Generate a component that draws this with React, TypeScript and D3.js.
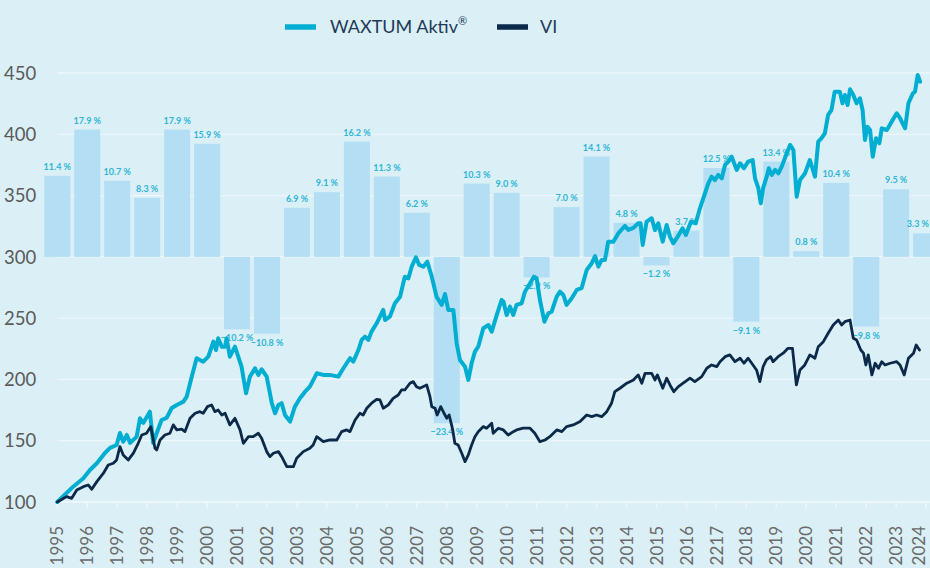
import React from "react";
import * as d3 from "d3";

const years = [1995, 1996, 1997, 1998, 1999, 2000, 2001, 2002, 2003, 2004, 2005, 2006, 2007, 2008, 2009, 2010, 2011, 2012, 2013, 2014, 2015, 2016, 2017, 2018, 2019, 2020, 2021, 2022, 2023, 2024];
const yearLabels = ["1995", "1996", "1997", "1998", "1999", "2000", "2001", "2002", "2003", "2004", "2005", "2006", "2207", "2008", "2009", "2010", "2011", "2012", "2013", "2014", "2015", "2016", "2217", "2018", "2019", "2020", "2021", "2022", "2023", "2024"];
const annualReturns = [11.4, 17.9, 10.7, 8.3, 17.9, 15.9, -10.2, -10.8, 6.9, 9.1, 16.2, 11.3, 6.2, -23.4, 10.3, 9.0, -2.9, 7.0, 14.1, 4.8, -1.2, 3.7, 12.5, -9.1, 13.4, 0.8, 10.4, -9.8, 9.5, 3.3];
const yTicks = [100, 150, 200, 250, 300, 350, 400, 450];
const legendLabels = ["WAXTUM Aktiv", "VI"];

const waxtumSeries: [number, number][] = [
  [1995.0, 100], [1995.53, 112.5], [1995.87, 119.4], [1996.09, 126.1], [1996.32, 131.6], [1996.59, 140], [1996.76, 144.1], [1996.98, 146.5],
  [1997.09, 156.3], [1997.2, 149.2], [1997.32, 154.7], [1997.43, 148.2], [1997.65, 153.3], [1997.76, 168.3], [1997.87, 164.5],
  [1998.09, 173.7], [1998.2, 148.2], [1998.32, 156.3], [1998.48, 166.9], [1998.65, 168.6], [1998.82, 176.7], [1998.99, 179.2],
  [1999.21, 181.9], [1999.32, 186], [1999.49, 202.3], [1999.65, 217.3], [1999.87, 214.5], [2000.04, 218.6], [2000.21, 230.8],
  [2000.3, 224], [2000.37, 233.6], [2000.49, 226.7], [2000.6, 226.7], [2000.65, 233.6], [2000.76, 218.6], [2000.93, 226.7],
  [2001.15, 210.4], [2001.3, 188.7], [2001.43, 202.3], [2001.6, 209.1], [2001.71, 203.7], [2001.82, 208.3], [2001.99, 202.3],
  [2002.16, 180.6], [2002.27, 172.4], [2002.38, 179.2], [2002.49, 180.6], [2002.6, 171], [2002.77, 165.6], [2002.93, 177.8],
  [2003.1, 184.6], [2003.27, 190], [2003.43, 194.1], [2003.66, 205], [2003.88, 203.7], [2004.1, 203.7], [2004.38, 202.3],
  [2004.55, 209.1], [2004.77, 217.3], [2004.88, 214.5], [2005.05, 224], [2005.16, 232.2], [2005.27, 234.9], [2005.38, 232.2],
  [2005.49, 239], [2005.66, 245.8], [2005.88, 256.7], [2005.94, 248.5], [2006.1, 251.2], [2006.27, 262.1], [2006.44, 267.5],
  [2006.6, 283.8], [2006.72, 282.5], [2006.83, 292], [2006.97, 299.7], [2007.08, 293.4], [2007.22, 292], [2007.35, 296.1],
  [2007.5, 283.8], [2007.66, 267.5], [2007.83, 260.8], [2007.94, 269.7], [2008.05, 256.7], [2008.22, 256.7], [2008.33, 229.5],
  [2008.44, 215.9], [2008.61, 210.4], [2008.72, 199.6], [2008.83, 213.2], [2008.94, 222.7], [2009.05, 226.7], [2009.22, 241.8],
  [2009.39, 244.4], [2009.5, 239], [2009.67, 252.6], [2009.83, 264.8], [2009.89, 263.5], [2010.0, 252.6], [2010.11, 259.4],
  [2010.22, 252.6], [2010.33, 260.8], [2010.5, 262.1], [2010.61, 271.6], [2010.78, 278.5], [2010.91, 283.8], [2011.0, 282.5],
  [2011.11, 264.8], [2011.26, 247.1], [2011.39, 254], [2011.5, 255.3], [2011.67, 267.5], [2011.78, 271.6], [2011.89, 268.9],
  [2012.0, 260.8], [2012.17, 266.2], [2012.34, 273], [2012.5, 274.4], [2012.67, 289.3], [2012.84, 294.8], [2012.95, 300.7],
  [2013.06, 292], [2013.17, 297.5], [2013.28, 297.5], [2013.39, 312.4], [2013.56, 312.4], [2013.73, 319.3], [2013.95, 325.2],
  [2014.06, 322], [2014.23, 323.6], [2014.39, 327.4], [2014.47, 327.4], [2014.54, 309.7], [2014.67, 328.7], [2014.84, 331.5],
  [2014.95, 321.9], [2015.06, 327.4], [2015.21, 312.4], [2015.34, 326], [2015.45, 316.5], [2015.56, 311.1], [2015.71, 316.5],
  [2015.87, 323.3], [2015.98, 317.9], [2016.15, 328.7], [2016.31, 327.4], [2016.45, 339.6], [2016.62, 351.9], [2016.73, 360],
  [2016.84, 365.4], [2016.95, 362.7], [2017.06, 366.8], [2017.18, 364.1], [2017.29, 375], [2017.4, 377.7], [2017.51, 381.7],
  [2017.68, 370.9], [2017.79, 376.4], [2017.92, 372.3], [2018.06, 377.7], [2018.21, 379], [2018.29, 364.1], [2018.4, 356],
  [2018.48, 343.7], [2018.56, 356], [2018.68, 365.4], [2018.75, 372.3], [2018.85, 366.8], [2018.96, 370.9], [2019.07, 368.2],
  [2019.18, 373.6], [2019.35, 384.5], [2019.46, 391.3], [2019.57, 387.2], [2019.68, 349.1], [2019.79, 362.7], [2019.96, 368.2],
  [2020.12, 379], [2020.29, 365.4], [2020.4, 394], [2020.51, 396.8], [2020.62, 400.8], [2020.73, 415.8], [2020.84, 419.8],
  [2020.95, 434.8], [2021.12, 434.8], [2021.21, 425.3], [2021.29, 432.1], [2021.38, 423.9], [2021.46, 436.7], [2021.57, 432.1],
  [2021.68, 425.3], [2021.79, 429.4], [2021.88, 419.8], [2021.96, 395.4], [2022.04, 406.2], [2022.13, 403.5], [2022.22, 381.7],
  [2022.33, 396.8], [2022.44, 392.7], [2022.52, 404.9], [2022.69, 403.5], [2022.85, 410.3], [2023.02, 417.1], [2023.13, 413.1],
  [2023.3, 404.9], [2023.41, 425.3], [2023.56, 433.5], [2023.63, 434.8], [2023.72, 448.4], [2023.8, 442.9]
];

const viSeries: [number, number][] = [
  [1995.0, 100], [1995.31, 104.4], [1995.48, 103], [1995.65, 109.8], [1995.87, 112.5], [1996.03, 113.9], [1996.15, 110.4],
  [1996.32, 116.6], [1996.54, 123.5], [1996.7, 130.2], [1996.87, 131.6], [1996.98, 134.3], [1997.09, 145.2], [1997.2, 138.4],
  [1997.37, 134.3], [1997.54, 139.8], [1997.7, 147.9], [1997.82, 154.7], [1997.98, 156.1], [1998.12, 161.5], [1998.26, 143.9],
  [1998.32, 142.5], [1998.43, 150.6], [1998.59, 154.7], [1998.76, 156.1], [1998.87, 162.9], [1998.99, 158.8], [1999.15, 159.4],
  [1999.26, 157.4], [1999.43, 168.3], [1999.6, 172.4], [1999.76, 173.7], [1999.87, 172.4], [2000.01, 177.8], [2000.15, 179.2],
  [2000.26, 173.7], [2000.37, 175.1], [2000.49, 171], [2000.6, 172.4], [2000.76, 162.9], [2000.93, 168.3], [2001.1, 158.8],
  [2001.21, 147.9], [2001.38, 153.3], [2001.54, 153.3], [2001.71, 156.1], [2001.82, 152], [2001.99, 141.1], [2002.1, 137],
  [2002.21, 139.8], [2002.38, 141.1], [2002.49, 137], [2002.66, 128.8], [2002.88, 128.8], [2002.99, 135.7], [2003.21, 141.1],
  [2003.43, 143.9], [2003.54, 146.5], [2003.66, 153.3], [2003.88, 149.2], [2004.1, 150.6], [2004.33, 150.6], [2004.49, 157.4],
  [2004.66, 158.8], [2004.77, 157.4], [2004.94, 166.9], [2005.1, 172.4], [2005.21, 171], [2005.33, 176.5], [2005.49, 180.6],
  [2005.66, 183.8], [2005.77, 183.3], [2005.88, 176.5], [2006.05, 179.2], [2006.21, 184.6], [2006.38, 187.3], [2006.49, 191.4],
  [2006.6, 191.4], [2006.77, 196.9], [2006.88, 198.2], [2006.99, 194.1], [2007.1, 192.8], [2007.33, 195.5], [2007.44, 185.9],
  [2007.5, 177.8], [2007.61, 176.5], [2007.68, 171], [2007.8, 177.8], [2007.91, 172.4], [2008.0, 168.3], [2008.08, 171],
  [2008.2, 158.8], [2008.27, 147.9], [2008.38, 146.5], [2008.5, 139.8], [2008.61, 132.9], [2008.72, 138.4], [2008.83, 146.5],
  [2008.94, 153.3], [2009.05, 157.4], [2009.22, 161.5], [2009.33, 160.2], [2009.5, 164.2], [2009.55, 156.1], [2009.72, 160.2],
  [2009.89, 158.8], [2010.05, 154.7], [2010.22, 157.4], [2010.33, 158.8], [2010.55, 160.2], [2010.78, 160.2], [2010.94, 156.1],
  [2011.11, 149.2], [2011.28, 150.6], [2011.44, 153.3], [2011.67, 158.8], [2011.84, 157.4], [2012.0, 161.5], [2012.22, 162.9],
  [2012.45, 165.6], [2012.67, 171], [2012.84, 169.6], [2013.0, 171], [2013.17, 169.6], [2013.34, 173.7], [2013.5, 180.6],
  [2013.61, 190], [2013.78, 192.8], [2014.01, 196.9], [2014.23, 199.6], [2014.39, 203.7], [2014.51, 196.9], [2014.62, 205],
  [2014.84, 205], [2014.95, 199.6], [2015.03, 203.7], [2015.21, 192.8], [2015.34, 201], [2015.45, 195.5], [2015.58, 190],
  [2015.73, 194.1], [2015.89, 196.9], [2016.12, 201], [2016.28, 198.2], [2016.51, 202.3], [2016.68, 209.1], [2016.84, 211.8],
  [2017.01, 210.4], [2017.12, 214.5], [2017.29, 218.6], [2017.45, 220], [2017.62, 214.5], [2017.79, 217.3], [2017.92, 213.2],
  [2018.06, 217.3], [2018.18, 213.2], [2018.34, 207.7], [2018.45, 198.2], [2018.56, 210.4], [2018.67, 215.9], [2018.81, 218.6],
  [2018.89, 214.5], [2019.06, 218.6], [2019.23, 221.4], [2019.39, 225.4], [2019.54, 225.4], [2019.67, 195.5], [2019.79, 207.7],
  [2019.95, 211.8], [2020.12, 220], [2020.29, 217.3], [2020.4, 226.7], [2020.57, 230.8], [2020.73, 237.7], [2020.9, 244.4],
  [2021.07, 248.5], [2021.18, 244.4], [2021.29, 247.1], [2021.46, 248.5], [2021.57, 233.6], [2021.68, 232.2], [2021.82, 224],
  [2021.91, 221.4], [2021.99, 211.8], [2022.07, 220], [2022.19, 203.7], [2022.3, 213.2], [2022.41, 209.1], [2022.52, 214.5],
  [2022.63, 211.8], [2022.8, 213.2], [2023.02, 214.5], [2023.13, 211.8], [2023.27, 203.7], [2023.41, 217.3], [2023.58, 221.4],
  [2023.67, 228.1], [2023.78, 224]
];

const W = 930;
const H = 568;
const BG = "#daeff6";
const CYAN = "#00aed1";
const NAVY = "#0b2948";
const BAR = "#b3def3";
const BAR_LABEL = "#2fb5d6";
const GRID = "#edf7fb";
const FONT = "Lato, 'Open Sans', sans-serif";
const BAR_BASE = 300;
const BAR_UNIT = 5.8;

function fmtPct(v: number) {
  return (v < 0 ? "\u2212" : "") + Math.abs(v).toFixed(1) + " %";
}

export default function App() {
  const x = d3.scaleLinear().domain([1995, 2024]).range([57.3, 926.1]);
  const y = d3.scaleLinear().domain([100, 450]).range([502, 73]);
  const barW = 26;
  const line = d3
    .line<[number, number]>()
    .x((d) => x(d[0]))
    .y((d) => y(d[1]));

  return (
    <svg
      width={W}
      height={H}
      viewBox={`0 0 ${W} ${H}`}
      style={{ position: "absolute", left: 0, top: 0, display: "block", background: BG }}
    >
      <rect x={0} y={0} width={W} height={H} fill={BG} />
      {yTicks.slice(1).map((t) => (
        <line key={"g" + t} x1={x(1995)} x2={W} y1={y(t)} y2={y(t)} stroke={GRID} strokeWidth={1.3} />
      ))}
      {yTicks.map((t) => (
        <text key={"yl" + t} x={4} y={y(t)} dy="0.36em" fontFamily={FONT} fontSize={18.5} fill="#5b5b5b">
          {t}
        </text>
      ))}
      {annualReturns.map((r, i) => {
        const top = y(BAR_BASE + Math.max(r, 0) * BAR_UNIT);
        const bot = y(BAR_BASE + Math.min(r, 0) * BAR_UNIT);
        return (
          <rect key={"b" + i} x={x(years[i]) - barW / 2} y={top} width={barW} height={bot - top} fill={BAR} />
        );
      })}
      {annualReturns.map((r, i) => {
        const yy = r >= 0 ? y(BAR_BASE + r * BAR_UNIT) - 6 : y(BAR_BASE + r * BAR_UNIT) + 12;
        const cx = x(years[i]);
        const nearEdge = cx + 14 > W;
        return (
          <text
            key={"bl" + i}
            x={nearEdge ? W - 1 : cx}
            y={yy}
            textAnchor={nearEdge ? "end" : "middle"}
            fontFamily={FONT}
            fontWeight={700}
            fontSize={9}
            fill={BAR_LABEL}
          >
            {fmtPct(r)}
          </text>
        );
      })}
      <line x1={x(1995)} x2={W} y1={y(100)} y2={y(100)} stroke={GRID} strokeWidth={2} />
      {years.map((yr, i) => (
        <g key={"xt" + yr}>
          <line x1={x(yr)} x2={x(yr)} y1={y(100)} y2={y(100) + 6} stroke={GRID} strokeWidth={1.5} />
          <text
            transform={`translate(${Math.min(x(yr), W - 11)},526) rotate(-90)`}
            textAnchor="end"
            dy="0.36em"
            fontFamily={FONT}
            fontSize={17}
            fill="#6a6a6a"
          >
            {yearLabels[i]}
          </text>
        </g>
      ))}
      <path d={line(waxtumSeries) || ""} fill="none" stroke={CYAN} strokeWidth={4} strokeLinejoin="round" strokeLinecap="round" />
      <path d={line(viSeries) || ""} fill="none" stroke={NAVY} strokeWidth={2.8} strokeLinejoin="round" strokeLinecap="round" />
      <line x1={285} x2={316} y1={27} y2={27} stroke={CYAN} strokeWidth={5.5} />
      <text x={330} y={33} fontFamily={FONT} fontSize={18} fill="#1e3a57">
        {legendLabels[0]}
        <tspan dy={-8} fontSize={11}>®</tspan>
      </text>
      <line x1={497} x2={528} y1={27} y2={27} stroke={NAVY} strokeWidth={5.5} />
      <text x={540} y={33} fontFamily={FONT} fontSize={18} fill="#1e3a57">
        {legendLabels[1]}
      </text>
    </svg>
  );
}
